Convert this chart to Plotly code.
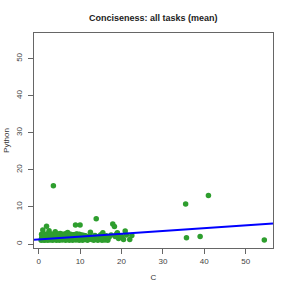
import plotly.graph_objects as go

# data: C (x) vs Python (y) conciseness means
c_vals = [0.6,0.7,0.8,0.9,1.0,1.0,1.1,1.2,1.3,1.4,1.5,1.6,1.7,1.8,1.9,2.0,2.1,2.2,2.3,2.5,
          2.5,2.7,2.8,3.0,3.1,3.2,3.4,3.5,3.55,3.6,3.8,4.0,4.0,4.2,4.3,4.5,4.6,4.8,5.0,5.0,
          5.2,5.4,5.5,5.7,5.9,6.0,6.2,6.3,6.5,6.6,6.8,7.0,7.0,7.2,7.4,7.5,7.7,7.9,8.0,8.2,
          8.4,8.5,8.7,8.9,9.0,9.1,9.3,9.5,9.6,9.8,10.0,10.0,10.2,10.4,10.6,10.8,11.0,11.2,11.5,11.8,
          12.0,12.3,12.5,12.8,13.0,13.3,13.6,13.9,14.0,14.3,14.5,14.8,15.0,15.3,15.5,15.8,16.0,16.3,16.7,17.0,
          17.5,17.9,18.3,18.5,18.8,19.0,19.3,19.8,20.0,20.5,20.9,21.2,22.0,22.5,35.5,35.7,39.0,41.0,54.5,
          0.8,1.2,1.6,2.0,2.4,2.8,3.3,3.7,4.1,4.5,4.9,5.3,5.7,6.1,6.5,6.9,7.3,7.7,8.1,8.5,
          8.9,9.3,9.7,10.1,10.5,10.9,1.0,1.5,2.2,2.9,3.9,4.7,5.6,6.4,7.1,7.9,8.6,9.4,10.3,11.1,
          0.7,1.4,2.1,2.8,3.5,4.2,4.9,5.6,6.3,7.0,7.7,8.4,9.1,9.8,10.5,11.3,12.2,13.1,14.2,15.1]
python_vals = [1.0,1.5,2.0,2.4,3.8,1.2,1.8,2.6,1.0,1.4,2.2,1.1,1.7,2.5,4.8,1.3,2.0,1.0,2.8,3.6,
               1.6,2.2,1.1,1.9,2.6,1.3,1.0,2.3,15.7,1.6,2.0,3.3,1.2,2.7,1.0,1.8,2.4,1.3,2.1,1.0,
               2.8,1.5,2.3,1.1,1.9,2.6,1.3,2.1,1.0,2.8,1.6,3.1,1.2,2.2,1.0,1.8,2.5,1.3,2.0,1.0,
               2.4,1.5,2.1,5.1,1.1,1.8,2.6,1.2,2.0,1.0,5.1,2.4,1.5,2.0,1.0,1.7,2.3,1.2,1.9,1.0,
               1.5,2.2,3.2,1.2,1.8,1.0,2.3,6.8,1.5,1.0,2.0,1.3,2.5,1.0,3.0,1.6,1.1,2.2,1.0,1.8,
               2.4,5.4,4.7,2.0,2.6,3.0,1.5,2.2,2.0,1.2,3.5,2.4,1.2,2.3,10.8,1.7,2.05,13.1,1.08,
               1.4,1.7,1.9,1.6,1.5,1.8,1.4,1.7,1.5,1.9,1.6,1.4,1.8,1.5,1.7,1.4,1.9,1.6,1.5,1.8,
               1.4,1.6,1.7,1.5,1.8,1.4,2.2,2.1,2.3,2.0,2.2,2.1,2.3,2.0,2.2,2.1,2.3,2.0,2.2,1.9,
               2.6,2.7,2.5,2.7,2.6,2.5,2.7,2.6,2.5,2.7,2.6,2.5,2.7,2.6,2.4,2.2,1.9,1.6,1.8,1.4]

fit_intercept = 1.24
fit_slope = 0.0763

x_range = [-1.13, 56.6]
y_range = [-1.08, 56.9]
tick_vals = [0, 10, 20, 30, 40, 50]

fig = go.Figure()
fig.add_trace(go.Scatter(
    x=c_vals, y=python_vals, mode="markers",
    marker=dict(color="#2e9e2e", size=5.5, line=dict(width=0)),
    showlegend=False, cliponaxis=True))
fig.add_trace(go.Scatter(
    x=x_range, y=[fit_intercept + fit_slope * v for v in x_range],
    mode="lines", line=dict(color="#0000ff", width=2),
    showlegend=False))

axis_common = dict(
    showgrid=False, zeroline=False, showline=True, mirror=True,
    linecolor="#666666", linewidth=1, ticks="outside", ticklen=5,
    tickcolor="#666666", tickvals=tick_vals, automargin=False,
    tickfont=dict(family="Liberation Sans, Arial", size=8, color="#444444"),
)

fig.update_layout(
    width=291, height=291,
    margin=dict(l=34, r=18, t=33, b=43),
    paper_bgcolor="white", plot_bgcolor="white",
    title=dict(text="<b>Conciseness: all tasks (mean)</b>", x=0.527, xanchor="center",
               y=0.94, yanchor="middle", automargin=False,
               font=dict(family="Liberation Sans, Arial", size=9, color="#222222")),
    xaxis=dict(range=x_range, title=dict(text="C", standoff=9,
               font=dict(family="Liberation Sans, Arial", size=8, color="#333333")),
               **axis_common),
    yaxis=dict(range=y_range, tickangle=-90, ticklabelstandoff=3,
               title=dict(text="Python", standoff=3,
               font=dict(family="Liberation Sans, Arial", size=8, color="#333333")),
               **axis_common),
)

fig.write_html("out.html", config={"displayModeBar": False},
               post_script="document.body.style.margin='0';document.body.style.overflow='hidden';")
